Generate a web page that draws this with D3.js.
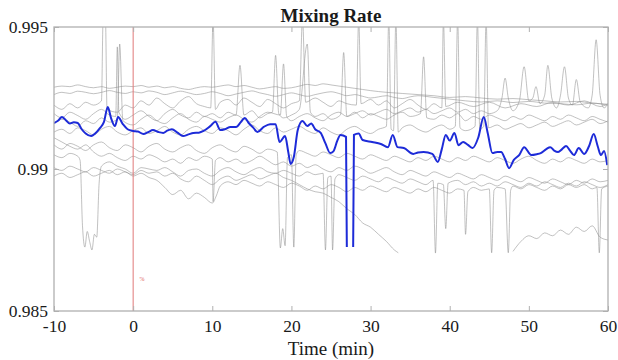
<!DOCTYPE html>
<html>
<head>
<meta charset="utf-8">
<script src="https://cdn.jsdelivr.net/npm/d3@7"></script>
<style>
  body { margin: 0; background: #fff; }
  text { font-family: "Liberation Serif", "Times New Roman", serif; fill: #1a1a1a; }
</style>
</head>
<body>
<div id="chartHolder"></div>
<script>
// ---- data: [minute, mixing rate] pairs, null = gap ----
const runA = [[-10,.99288],[-9,.99292],[-8,.99290],[-7,.99296],[-6,.99290],[-5,.99286],[-4,.99290],[-3,.99284],[-2,.99288],[-1,.99292],[0,.99290],[1,.99294],[2,.99288],[3,.99292],[4,.99286],[5,.99290],[6,.99284],[7,.99280],[8,.99286],[9,.99290],[10,.99288],[11,.99292],[12,.99296],[13,.99290],[14,.99294],[15,.99288],[16,.99282],[17,.99286],[18,.99290],[19,.99284],[20,.99286],[21,.99292],[22,.99298],[23,.99294],[24,.99300],[25,.99296],[26,.99292],[27,.99288],[28,.99284],[29,.99280],[30,.99276],[32,.99270],[34,.99266],[36,.99262],[38,.99258],[40,.99252],[42,.99255],[44,.99250],[46,.99246],[48,.99248],[50,.99244],[52,.99240],[54,.99236],[56,.99238],[58,.99232],[60,.99228]];
const runB = [[-10,.99262],[-9,.99270],[-8,.99266],[-7,.99274],[-6,.99270],[-5,.99265],[-4,.99270],[-3,.99276],[-2,.99270],[-1,.99266],[0,.99272],[1,.99268],[2,.99275],[3,.99270],[4,.99262],[5,.99268],[6,.99274],[7,.99268],[8,.99262],[9,.99266],[10,.99272],[11,.99266],[12,.99258],[13,.99264],[14,.99270],[15,.99275],[16,.99268],[17,.99262],[18,.99256],[19,.99262],[20,.99268],[21,.99262],[22,.99256],[23,.99262],[24,.99268],[25,.99272],[26,.99266],[27,.99258],[28,.99262],[29,.99256],[30,.99250],[31,.99254],[32,.99258],[33,.99252],[34,.99248],[35,.99254],[36,.99258],[38,.99252],[40,.99246],[42,.99240],[44,.99236],[46,.99240],[48,.99234],[50,.99238],[52,.99232],[54,.99230],[56,.99226],[58,.99232],[60,.99224]];
const runC = [[-10,.99225],[-9,.99210],[-8,.99230],[-7,.99215],[-6,.99235],[-5,.99225],[-4,.99240],[-3.8,.99520],[-3.5,.99530],[-3.3,.99210],[-2,.99200],[-1,.99225],[0,.99215],[1,.99240],[2,.99225],[3,.99250],[4,.99230],[5,.99215],[6,.99240],[7,.99255],[8,.99230],[9,.99220],[9.8,.99215],[10.1,.99530],[10.4,.99210],[11,.99235],[12,.99245],[13,.99225],[14,.99250],[15,.99235],[16,.99220],[17,.99245],[18,.99230],[19,.99215],[20,.99230],[21,.99240],[21.4,.99530],[21.8,.99235],[23,.99250],[24,.99235],[25,.99220],[26,.99240],[27,.99230],[28.2,.99225],[28.5,.99530],[28.8,.99230],[30,.99245],[31,.99225],[32,.99240],[33,.99215],[34,.99230],[35,.99245],[36,.99225],[37,.99210],[38,.99230],[39,.99215],[39.2,.99530],[39.5,.99220],[41,.99235],[43,.99220],[45,.99235],[47,.99215],[49,.99230],[51,.99220],[53,.99235],[55,.99225],[57,.99240],[59,.99220],[60,.99230]];
const runD = [[-10,.99195],[-9,.99180],[-8,.99200],[-7,.99188],[-6,.99175],[-5,.99195],[-4,.99210],[-3,.99190],[-2.2,.99185],[-2,.99430],[-1.8,.99200],[-1,.99175],[0,.99190],[1,.99205],[2,.99185],[3,.99170],[4,.99195],[5,.99210],[6,.99190],[7,.99180],[8,.99200],[9,.99185],[10,.99195],[11,.99180],[12,.99200],[13,.99190],[13.5,.99365],[14,.99190],[15,.99205],[16,.99180],[17,.99195],[17.6,.99200],[18,.99400],[18.4,.99195],[19,.99180],[20,.99190],[21,.99210],[22,.99440],[22.4,.99200],[23,.99185],[24,.99195],[25,.99175],[26.2,.99190],[26.6,.99410],[27,.99185],[28,.99200],[29,.99180],[30,.99195],[31,.99185],[32,.99175],[33,.99190],[34,.99200],[35,.99185],[36.3,.99195],[36.7,.99395],[37.1,.99180],[38,.99175],[39,.99190],[40,.99180],[41,.99195],[42,.99170],[43,.99185],[44,.99175],[45,.99190],[46,.99180],[47,.99170],[48,.99185],[49,.99175],[50,.99190],[51,.99180],[52,.99170],[53,.99185],[54,.99175],[55,.99190],[56,.99180],[57,.99170],[58,.99185],[59,.99175],[60,.99165]];
const runE = [[-10,.99160],[-9,.99175],[-8,.99165],[-7,.99150],[-6,.99170],[-5,.99160],[-4,.99180],[-3,.99165],[-2,.99175],[-1.7,.99440],[-1.3,.99170],[0,.99155],[1,.99175],[2,.99190],[3,.99170],[4,.99160],[5,.99180],[6,.99195],[7,.99175],[8,.99165],[9,.99185],[10,.99175],[11,.99165],[12,.99180],[13,.99190],[14,.99175],[15,.99165],[16,.99185],[17,.99200],[18.6,.99190],[19,.99370],[19.4,.99185],[20,.99170],[21,.99185],[22,.99195],[23,.99180],[24,.99170],[25,.99190],[26,.99200],[27,.99185],[28,.99195],[29,.99205],[30,.99190],[31,.99200],[32,.99210],[33,.99195],[34,.99205],[35,.99215],[36,.99200],[37,.99210],[38,.99195],[39,.99205],[40,.99215],[41,.99200],[42,.99210],[43,.99195],[44,.99205],[45,.99195],[46,.99205],[46.6,.99250],[47,.99320],[47.4,.99250],[48,.99205],[48.8,.99240],[49.4,.99360],[50,.99240],[50.5,.99250],[50.9,.99290],[51.4,.99230],[52,.99260],[52.4,.99365],[52.9,.99250],[53.5,.99215],[54,.99260],[54.5,.99360],[55,.99250],[55.5,.99225],[56,.99315],[56.5,.99235],[57.5,.99215],[58,.99260],[58.5,.99455],[59,.99260],[59.5,.99215],[60,.99230]];
const runF = [[-10,.99130],[-9,.99140],[-8,.99125],[-7,.99145],[-6,.99135],[-5,.99120],[-4,.99140],[-3,.99150],[-2,.99130],[-1,.99120],[0,.99135],[1,.99145],[2,.99125],[3,.99135],[4,.99150],[5,.99130],[6,.99120],[7,.99140],[8,.99150],[9,.99135],[10,.99125],[11,.99145],[12,.99135],[13,.99120],[14,.99140],[15,.99155],[16,.99135],[17,.99125],[18,.99145],[19,.99130],[20,.99140],[21,.99150],[22,.99135],[23,.99125],[24,.99145],[25,.99130],[26,.99120],[27,.99140],[28,.99150],[29,.99135],[30,.99125],[31,.99140],[32,.99150],[32.3,.99530],[32.6,.99140],[32.9,.99135],[33.2,.99530],[33.5,.99130],[34,.99145],[35,.99155],[36,.99140],[37,.99130],[38,.99145],[39,.99155],[40,.99140],[40.7,.99150],[41,.99530],[41.3,.99145],[42,.99135],[43.2,.99150],[43.5,.99530],[43.8,.99140],[44.3,.99150],[44.6,.99530],[44.9,.99145],[46,.99155],[47,.99140],[48,.99150],[49,.99160],[50,.99145],[51,.99155],[52,.99165],[53,.99150],[54,.99160],[55,.99170],[56,.99155],[57,.99165],[58,.99175],[59,.99160],[60,.99170]];
const runG = [[-10,.99085],[-9,.99070],[-8,.99090],[-7,.99080],[-6,.99065],[-5,.99085],[-4,.99095],[-3,.99075],[-2,.99065],[-1,.99085],[0,.99075],[1,.99060],[2,.99080],[3,.99090],[4,.99070],[5,.99060],[6,.99075],[7,.99085],[8,.99065],[9,.99055],[10,.99075],[11,.99085],[12,.99070],[13,.99060],[14,.99080],[15,.99070],[16,.99055],[17,.99070],[18.2,.99060],[18.6,.98722],[18.9,.98790],[19.2,.98730],[19.5,.99040],[20,.99050],[20.3,.98725],[20.6,.99050],[21,.99065],[22,.99055],[23,.99045],[24,.99060],[25,.99050],[26,.99040],[27,.99055],[28,.99045],[29,.99035],[30,.99050],[31,.99040],[32,.99030],[33,.99045],[34,.99035],[35,.99025],[36,.99040],[37,.99030],[38,.99045],[39,.99035],[40,.99025],[41,.99040],[42,.99030],[43,.99045],[44,.99035],[45,.99025],[46,.99040],[47,.99030],[48,.99020],[49,.99035],[50,.99045],[51,.99030],[52,.99020],[53,.99035],[54,.99025],[55,.99040],[56,.99030],[57,.99020],[58,.99035],[59,.99025],[60,.99030]];
const runH = [[-10,.99050],[-9,.99040],[-8,.99055],[-7,.99045],[-6.7,.99030],[-6.4,.98800],[-6.1,.98725],[-5.8,.98780],[-5.5,.98745],[-5.2,.98715],[-4.9,.98770],[-4.6,.98760],[-4.3,.98950],[-4,.99010],[-3,.99025],[-2,.99010],[-1,.99000],[0,.98985],[1,.99005],[2,.99000],[3,.98995],[4,.99005],[5,.98990],[6,.98975],[7,.98995],[8,.99000],[9,.98985],[10,.98975],[11,.98995],[12,.99005],[13,.98990],[14,.98980],[15,.98995],[16,.99005],[17,.98990],[18,.98985],[19,.98995],[20,.98985],[21,.98975],[22,.98990],[23,.98980],[24,.98985],[24.3,.98715],[24.6,.98970],[25,.98975],[25.2,.98715],[25.5,.98965],[26,.98980],[27,.98970],[28,.98960],[29,.98975],[30,.98965],[31,.98955],[32,.98970],[33,.98960],[34,.98950],[35,.98965],[36,.98955],[37,.98945],[37.9,.98960],[38.2,.98704],[38.5,.98950],[39.2,.98945],[39.5,.98790],[39.8,.98950],[41,.98960],[42,.98945],[43,.98955],[44,.98940],[45,.98950],[46,.98940],[47,.98955],[48,.98945],[49,.98935],[50,.98950],[51,.98940],[52,.98955],[53,.98945],[54,.98935],[55,.98950],[56,.98940],[57,.98955],[58,.98945],[59,.98935],[60,.98945]];
const runI = [[-10,.99005],[-9,.98995],[-8,.99010],[-7,.99000],[-6,.98990],[-5,.99005],[-4,.98995],[-3,.98985],[-2,.99000],[-1,.98990],[0,.98980],[1,.98995],[2,.98985],[3,.98990],[4,.98975],[5,.98985],[6,.98965],[7,.98955],[8,.98975],[9,.98960],[10,.98945],[11,.98965],[12,.98975],[13,.98960],[14,.98970],[15,.98980],[16,.98965],[17,.98975],[18,.98985],[19,.98970],[20,.98960],[21,.98945],[22,.98930],[23,.98920],[24,.98915],[25,.98900],[26,.98885],[27,.98860],[28,.98840],[29,.98810],[30,.98795],[31,.98770],[32,.98745],[33,.98715],[33.5,.98705],[34,null],[47.5,null],[48,.98710],[49,.98745],[50,.98765],[51,.98755],[52,.98775],[53,.98765],[54,.98785],[55,.98770],[56,.98795],[57,.98780],[58,.98800],[59,.98760],[60,.98750]];
const runJ = [[-10,.98975],[-9,.98985],[-8,.98970],[-7,.98980],[-6,.98990],[-5,.98975],[-4,.98985],[-3,.98995],[-2,.98980],[-1,.98990],[0,.98975],[1,.98985],[2,.98970],[3,.98960],[4,.98935],[5,.98910],[6,.98925],[7,.98895],[8,.98915],[9,.98900],[10,.98880],[10.5,.98905],[11,.98940],[12,.98955],[13,.98945],[14,.98960],[15,.98950],[16,.98940],[17,.98955],[18,.98945],[19,.98935],[20,.98950],[21,.98940],[22,.98925],[23,.98940],[24,.98930],[25,.98945],[26,.98935],[27,.98920],[28,.98935],[29,.98925],[30,.98940],[31,.98930],[32,.98920],[33,.98935],[34,.98925],[35,.98915],[36,.98930],[37,.98920],[38,.98935],[39,.98925],[40,.98915],[41,.98930],[41.8,.98925],[42,.98770],[42.3,.98920],[43,.98935],[44,.98925],[45,.98930],[45.3,.98705],[45.6,.98925],[46,.98935],[47,.98930],[47.4,.98705],[47.7,.98925],[48,.98940],[49,.98930],[50,.98945],[51,.98935],[52,.98925],[53,.98940],[54,.98930],[55,.98945],[56,.98935],[57,.98945],[58,.98930],[58.6,.98935],[58.9,.98705],[59.2,.98930],[60,.98940]];
const runK = [[-10,.99110],[-9,.99095],[-8,.99080],[-7,.99070],[-6,.99085],[-5,.99060],[-4,.99045],[-3,.99055],[-2,.99040],[-1,.99030],[0,.99045],[1,.99035],[2,.99050],[3,.99040],[4,.99025],[5,.99035],[6,.99020],[7,.99040],[8,.99030],[9,.99045],[10,.99035],[10.1,.98885],[10.4,.99030],[11,.99040],[12,.99025],[13,.99035],[14,.99020],[15,.99030],[16,.99045],[17,.99030],[18,.99015],[19,.99025],[20,.99010],[21,.99020],[22,.99005],[23,.99015],[24,.99000],[25,.98990],[26,.99005],[27,.98995],[28,.99010],[29,.99000],[30,.98985],[31,.98995],[32,.99005],[33,.98990],[34,.98980],[35,.98995],[36,.98985],[37,.98975],[38,.98990],[39,.98980],[40,.98970],[41,.98985],[42,.98975],[43,.98965],[44,.98980],[45,.98970],[46,.98960],[47,.98975],[48,.98965],[49,.98955],[50,.98970],[51,.98960],[52,.98950],[53,.98965],[54,.98955],[55,.98945],[56,.98960],[57,.98950],[58,.98965],[59,.98955],[60,.98960]];
const runs = [runA, runB, runC, runD, runE, runF, runG, runH, runI, runJ, runK];

const meanRun = [[-10,.99162],[-9.5,.99170],[-9,.99183],[-8.5,.99172],[-8,.99160],[-7.5,.99165],[-7,.99162],[-6.5,.99140],[-6,.99125],[-5.3,.99116],[-4.8,.99125],[-4.2,.99144],[-3.7,.99165],[-3.2,.99218],[-2.8,.99180],[-2.3,.99151],[-1.9,.99183],[-1.3,.99158],[-0.7,.99140],[0,.99134],[0.6,.99132],[1.3,.99123],[1.9,.99130],[2.5,.99137],[3.2,.99130],[3.8,.99127],[4.3,.99135],[4.9,.99140],[5.6,.99128],[6.3,.99116],[7,.99122],[7.6,.99127],[8.3,.99128],[8.9,.99134],[9.7,.99150],[10.4,.99166],[11,.99137],[11.6,.99140],[12.3,.99148],[13,.99148],[13.6,.99165],[14.1,.99180],[14.6,.99162],[15.2,.99145],[15.7,.99130],[16.5,.99148],[17.3,.99158],[18,.99158],[18.5,.99095],[19.2,.99116],[19.6,.99060],[19.9,.99018],[20.3,.99042],[20.8,.99137],[21.4,.99169],[22,.99151],[22.5,.99160],[23,.99140],[23.7,.99127],[24.3,.99090],[24.9,.99056],[25.3,.99062],[25.8,.99100],[26.2,.99120],[26.9,.99113],[27.0,.98725],[27.1,null],[27.7,null],[27.8,.98725],[27.9,.99120],[28.5,.99125],[29,.99102],[30.2,.99095],[31.3,.99088],[32.2,.99077],[32.8,.99120],[33.4,.99077],[34.2,.99074],[35.4,.99053],[36,.99058],[36.7,.99060],[37.8,.99053],[38.5,.99025],[39,.99070],[39.5,.99120],[40,.99100],[40.6,.99127],[41.1,.99084],[41.7,.99095],[42.3,.99085],[42.9,.99074],[43.6,.99110],[44.3,.99183],[44.8,.99127],[45.4,.99056],[46,.99060],[46.5,.99060],[47,.99035],[47.5,.99003],[48.1,.99032],[48.8,.99050],[49.4,.99077],[50.3,.99049],[51,.99052],[51.5,.99056],[52.2,.99070],[52.7,.99077],[53.2,.99065],[53.7,.99060],[54.2,.99070],[54.7,.99081],[55.2,.99065],[55.7,.99049],[56.3,.99074],[57,.99053],[57.6,.99080],[58.2,.99123],[58.7,.99080],[59.1,.99049],[59.5,.99063],[59.9,.99014]];

const xTicks = [-10, 0, 10, 20, 30, 40, 50, 60];
const yTicks = [0.985, 0.99, 0.995];
const yTickLabels = ['0.985', '0.99', '0.995'];
const eventTime = 0;
const eventNote = [0.8, 0.98612, '%'];
const chartTitle = 'Mixing Rate';
const xTitle = 'Time (min)';

// ---- layout ----
const chartWidth = 618, chartHeight = 360;
const plotLeft = 54, plotRight = 608, plotTop = 27, plotBottom = 311;
const serif = '"Liberation Serif", "Times New Roman", serif';

const svg = d3.select('#chartHolder').append('svg')
    .attr('width', chartWidth)
    .attr('height', chartHeight);

const x = d3.scaleLinear().domain([-10, 60]).range([plotLeft, plotRight]);
const y = d3.scaleLinear().domain([0.985, 0.995]).range([plotBottom, plotTop]);

svg.append('clipPath').attr('id', 'plotClip')
    .append('rect')
    .attr('x', plotLeft).attr('y', plotTop)
    .attr('width', plotRight - plotLeft).attr('height', plotBottom - plotTop);

const line = d3.line()
    .defined(d => d[1] != null)
    .x(d => x(d[0]))
    .y(d => y(d[1]))
    .curve(d3.curveMonotoneX);

const plot = svg.append('g').attr('clip-path', 'url(#plotClip)');

plot.selectAll('path.run')
    .data(runs)
    .enter().append('path')
    .attr('class', 'run')
    .attr('d', line)
    .attr('fill', 'none')
    .attr('stroke', '#8f8f8f')
    .attr('stroke-opacity', 0.7)
    .attr('stroke-width', 0.8);

plot.append('line')
    .attr('x1', x(eventTime)).attr('x2', x(eventTime))
    .attr('y1', plotTop).attr('y2', plotBottom)
    .attr('stroke', '#e07878')
    .attr('stroke-width', 1);

plot.append('path')
    .datum(meanRun)
    .attr('d', line)
    .attr('fill', 'none')
    .attr('stroke', '#1d2bd8')
    .attr('stroke-width', 2);

plot.append('text')
    .attr('x', x(eventNote[0]))
    .attr('y', y(eventNote[1]))
    .attr('dy', '0.35em')
    .style('font-size', '6px')
    .style('fill', '#e06060')
    .text(eventNote[2]);

// ---- axes (box with inward ticks) ----
const axisColor = '#b0b0b0';
function styleAxis(g) {
    g.attr('font-family', serif).attr('font-size', 17);
    g.select('.domain').remove();
    g.selectAll('.tick line').attr('stroke', axisColor).attr('stroke-width', 1);
    g.selectAll('.tick text')
        .style('font-family', serif)
        .style('font-size', '17.5px')
        .attr('fill', '#1a1a1a');
}

svg.append('g')
    .attr('transform', `translate(0,${plotBottom})`)
    .call(d3.axisBottom(x).tickValues(xTicks).tickSize(-5).tickPadding(9).tickFormat(d => String(d)))
    .call(styleAxis);
svg.append('g')
    .attr('transform', `translate(0,${plotTop})`)
    .call(d3.axisTop(x).tickValues(xTicks).tickSize(-5).tickFormat(''))
    .call(styleAxis);
svg.append('g')
    .attr('transform', `translate(${plotLeft},0)`)
    .call(d3.axisLeft(y).tickValues(yTicks).tickSize(-5).tickPadding(6).tickFormat((d, i) => yTickLabels[i]))
    .call(styleAxis);
svg.append('g')
    .attr('transform', `translate(${plotRight},0)`)
    .call(d3.axisRight(y).tickValues(yTicks).tickSize(-5).tickFormat(''))
    .call(styleAxis);

svg.append('rect')
    .attr('x', plotLeft).attr('y', plotTop)
    .attr('width', plotRight - plotLeft).attr('height', plotBottom - plotTop)
    .attr('fill', 'none')
    .attr('stroke', axisColor)
    .attr('stroke-width', 1.3);

svg.append('text')
    .attr('x', (plotLeft + plotRight) / 2)
    .attr('y', 22)
    .attr('text-anchor', 'middle')
    .style('font-size', '19px')
    .style('font-weight', 'bold')
    .text(chartTitle);

svg.append('text')
    .attr('x', (plotLeft + plotRight) / 2)
    .attr('y', 355)
    .attr('text-anchor', 'middle')
    .style('font-size', '19px')
    .text(xTitle);
</script>
</body>
</html>
